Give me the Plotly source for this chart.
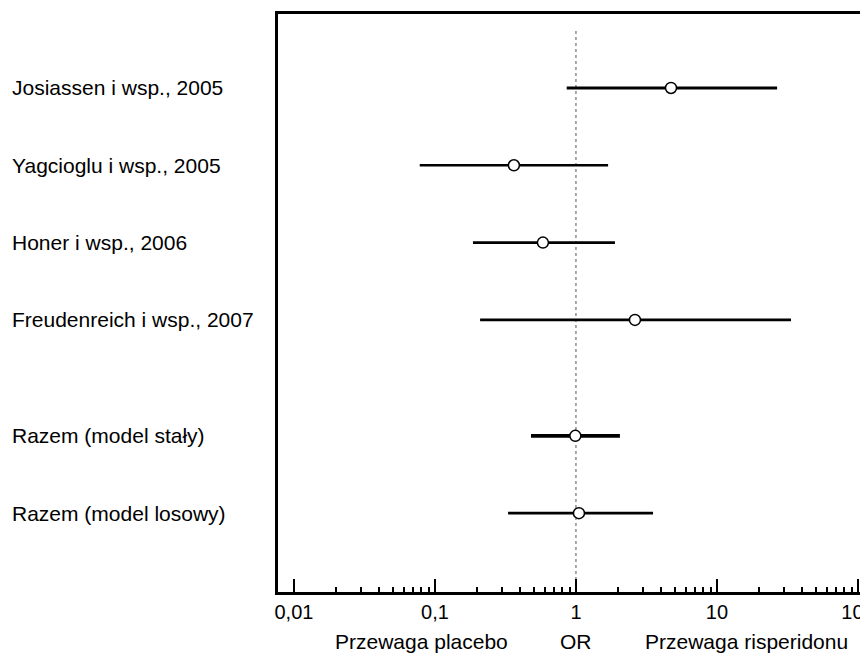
import plotly.graph_objects as go

studies = ["Josiassen i wsp., 2005", "Yagcioglu i wsp., 2005", "Honer i wsp., 2006",
           "Freudenreich i wsp., 2007", "Razem (model stały)", "Razem (model losowy)"]
rows = [0, 1, 2, 3, 4.5, 5.5]
or_vals = [4.72, 0.363, 0.583, 2.62, 0.99, 1.05]
ci_low = [0.86, 0.078, 0.186, 0.209, 0.48, 0.33]
ci_high = [26.7, 1.69, 1.89, 33.5, 2.05, 3.52]
line_w = [3.2, 2.6, 2.6, 2.8, 3.6, 2.6]

major_ticks = [0.01, 0.1, 1, 10, 100]
major_text = ["0,01", "0,1", "1", "10", "100"]
minor_ticks = [m * d for d in [0.01, 0.1, 1, 10, 100] for m in range(2, 10)]

FONT = "Liberation Sans, Arial, sans-serif"
OFF = 8  # default page body margin
W, H = 868 - OFF, 655 - OFF
ML, MR, MT, MB = 278 - OFF, 0, 14 - OFF, 63
plot_w = W - ML - MR
plot_h = H - MT - MB
plot_bottom_page = 592

fig = go.Figure()

for r, lo, hi, w in zip(rows, ci_low, ci_high, line_w):
    fig.add_trace(go.Scatter(x=[lo, hi], y=[r, r], mode="lines",
                             line=dict(color="black", width=w),
                             hoverinfo="skip", showlegend=False))

fig.add_trace(go.Scatter(x=or_vals, y=rows, mode="markers",
                         marker=dict(symbol="circle", size=11, color="white",
                                     line=dict(color="black", width=1.5)),
                         showlegend=False))

# reference line at OR = 1
fig.add_shape(type="line", xref="x", yref="paper", x0=1, x1=1,
              y0=0, y1=(plot_bottom_page - 30) / plot_h,
              line=dict(color="#555555", width=1, dash="dot"), layer="below")

for s, r in zip(studies, rows):
    fig.add_annotation(text=s, xref="paper", yref="y", x=-(ML - (10 - OFF)) / plot_w, y=r,
                       xanchor="left", yanchor="middle", showarrow=False,
                       font=dict(family=FONT, size=21, color="black"))

bottom_labels = ["Przewaga placebo", "OR", "Przewaga risperidonu"]
bottom_px = [421, 576, 746]
for t, px in zip(bottom_labels, bottom_px):
    fig.add_annotation(text=t, xref="paper", yref="paper", x=(px - 278) / plot_w,
                       y=-(641 - plot_bottom_page) / plot_h, xanchor="center", yanchor="middle",
                       showarrow=False, font=dict(family=FONT, size=21, color="black"))

fig.update_xaxes(type="log", range=[-2.113, 2.071], automargin=False,
                 tickvals=major_ticks, ticktext=major_text, ticklabeloverflow="allow",
                 ticks="inside", ticklen=13, tickwidth=2, tickcolor="black",
                 showline=True, linewidth=3, linecolor="black", mirror=True,
                 showgrid=False, zeroline=False,
                 tickfont=dict(family=FONT, size=20, color="black"),
                 minor=dict(tickvals=minor_ticks, ticks="inside", ticklen=5,
                            tickwidth=1.5, tickcolor="black", showgrid=False))
fig.update_yaxes(range=[6.52, -0.957], automargin=False,
                 showline=True, linewidth=3, linecolor="black",
                 showticklabels=False, ticks="", showgrid=False, zeroline=False)

fig.update_layout(width=W, height=H, margin=dict(l=ML, r=MR, t=MT, b=MB),
                  plot_bgcolor="white", paper_bgcolor="white",
                  font=dict(family=FONT, color="black"))

fig.write_html("out.html")
